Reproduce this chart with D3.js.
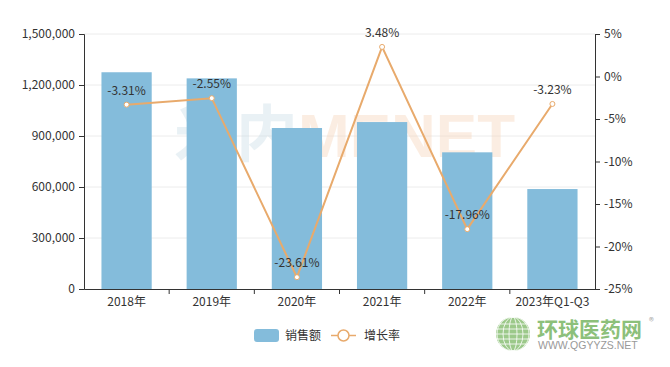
<!DOCTYPE html>
<html>
<head>
<meta charset="utf-8">
<script src="https://cdn.jsdelivr.net/npm/d3@7"></script>
<style>
  body { margin: 0; background: #fff; }
  svg { display: block; font-family: "Microsoft YaHei", "Noto Sans CJK SC", sans-serif; }
</style>
</head>
<body>
<svg id="chart" width="670" height="367"></svg>
<script>
// data
const categories = ['2018年', '2019年', '2020年', '2021年', '2022年', '2023年Q1-Q3']
const sales = [1275000, 1239000, 947000, 982000, 804000, 588000]
const growth = [-3.31, -2.55, -23.61, 3.48, -17.96, -3.23]
const leftTicks = [0, 300000, 600000, 900000, 1200000, 1500000]
const rightTicks = [-25, -20, -15, -10, -5, 0, 5]

const width = 670, height = 367
const margin = { top: 34, right: 75, bottom: 78, left: 84 }
const innerWidth = width - margin.left - margin.right
const innerHeight = height - margin.top - margin.bottom

const barColor = '#84bcdb'
const lineColor = '#e8aa6c'
const textColor = '#333'

const svg = d3.select('#chart')
svg.append('rect').attr('width', width).attr('height', height).attr('fill', '#fff')

const g = svg.append('g').attr('transform', `translate(${margin.left},${margin.top})`)

// scales
const x = d3.scaleBand().domain(categories).range([0, innerWidth]).paddingInner(0.41).paddingOuter(0.205)
const xBand = d3.scaleBand().domain(categories).range([0, innerWidth])
const yL = d3.scaleLinear().domain([0, 1500000]).range([innerHeight, 0])
const yR = d3.scaleLinear().domain([-25, 5]).range([innerHeight, 0])

// grid
g.append('g').selectAll('line').data(leftTicks.slice(1)).join('line')
  .attr('x1', 0).attr('x2', innerWidth)
  .attr('y1', d => yL(d)).attr('y2', d => yL(d))
  .attr('stroke', '#ececec')

// watermark
const wm = g.append('text')
  .attr('x', innerWidth / 2 + 5).attr('y', 157 - margin.top)
  .attr('text-anchor', 'middle')
  .attr('font-family', 'Arial, "Liberation Sans", sans-serif')
  .attr('font-weight', 'bold').attr('font-size', 62)
wm.append('tspan').attr('fill', '#c9dbe6').attr('fill-opacity', 0.4).attr('font-family', '"Noto Sans CJK SC", sans-serif').text('米内')
wm.append('tspan').attr('fill', '#f6d8bf').attr('fill-opacity', 0.45).text('MENET')

// bars
g.append('g').selectAll('rect').data(sales).join('rect')
  .attr('x', (d, i) => x(categories[i]))
  .attr('width', x.bandwidth())
  .attr('y', d => yL(d))
  .attr('height', d => innerHeight - yL(d))
  .attr('fill', barColor)

// axes
const axisStyle = sel => {
  sel.select('.domain').attr('stroke', '#333')
  sel.selectAll('.tick line').attr('stroke', '#333')
  sel.selectAll('.tick text').attr('fill', textColor).attr('font-size', 12)
    .attr('font-family', '"Microsoft YaHei", "Noto Sans CJK SC", sans-serif')
}

g.append('g')
  .call(d3.axisLeft(yL).tickValues(leftTicks).tickFormat(d3.format(',')).tickSizeOuter(0).tickSize(5).tickPadding(4))
  .call(axisStyle)

g.append('g')
  .attr('transform', `translate(${innerWidth},0)`)
  .call(d3.axisRight(yR).tickValues(rightTicks).tickFormat(d => d + '%').tickSizeOuter(0).tickSize(5).tickPadding(4))
  .call(axisStyle)

const xAxis = g.append('g')
  .attr('transform', `translate(0,${innerHeight})`)
  .call(d3.axisBottom(xBand).tickSize(0).tickSizeOuter(0).tickPadding(8))
  .call(axisStyle)
// boundary ticks between categories
xAxis.append('g').selectAll('line').data(categories.slice(1)).join('line')
  .attr('x1', d => xBand(d)).attr('x2', d => xBand(d))
  .attr('y1', 0).attr('y2', 5).attr('stroke', '#333')

// line
const cx = i => xBand(categories[i]) + xBand.bandwidth() / 2
const line = d3.line().x((d, i) => cx(i)).y(d => yR(d))
g.append('path').datum(growth)
  .attr('fill', 'none').attr('stroke', lineColor).attr('stroke-width', 2)
  .attr('d', line)

g.append('g').selectAll('circle').data(growth).join('circle')
  .attr('cx', (d, i) => cx(i)).attr('cy', d => yR(d)).attr('r', 2.5)
  .attr('fill', '#fff').attr('stroke', lineColor).attr('stroke-width', 1)

g.append('g').selectAll('text').data(growth).join('text')
  .attr('x', (d, i) => cx(i)).attr('y', d => yR(d) - 10)
  .attr('text-anchor', 'middle').attr('font-size', 12).attr('fill', textColor)
  .text(d => d.toFixed(2) + '%')

// legend
const lg = svg.append('g').attr('transform', 'translate(254,329)')
lg.append('rect').attr('x', 0).attr('y', 0).attr('width', 25).attr('height', 13).attr('rx', 3).attr('fill', barColor)
lg.append('text').attr('x', 31).attr('y', 11).attr('font-size', 12).attr('fill', textColor).text('销售额')
lg.append('line').attr('x1', 77).attr('x2', 102).attr('y1', 6.5).attr('y2', 6.5).attr('stroke', lineColor).attr('stroke-width', 1.5)
lg.append('circle').attr('cx', 89.5).attr('cy', 6.5).attr('r', 5.5).attr('fill', '#fff').attr('stroke', lineColor).attr('stroke-width', 1.5)
lg.append('text').attr('x', 110).attr('y', 11).attr('font-size', 12).attr('fill', textColor).text('增长率')

// logo
const logo = svg.append('g').attr('transform', 'translate(495,317)')
logo.append('circle').attr('cx', 18).attr('cy', 17).attr('r', 17).attr('fill', '#9cc98a')
logo.append('g').selectAll('line').data([-10, -5, 0, 5, 10]).join('line')
  .attr('x1', 1).attr('x2', 35).attr('y1', d => 17 + d).attr('y2', d => 17 + d)
  .attr('stroke', '#fff').attr('stroke-width', 0.8)
logo.append('g').selectAll('ellipse').data([4, 10, 16]).join('ellipse')
  .attr('cx', 18).attr('cy', 17).attr('rx', d => d).attr('ry', 17)
  .attr('fill', 'none').attr('stroke', '#fff').attr('stroke-width', 0.8)
logo.append('text').attr('x', 42).attr('y', 20).attr('font-size', 21).attr('font-weight', 'bold')
  .attr('fill', '#8cc07a').attr('font-family', '"Noto Sans CJK SC", sans-serif').text('环球医药网')
logo.append('text').attr('x', 43).attr('y', 32).attr('font-size', 10.5).attr('fill', '#999')
  .attr('font-family', 'Arial, "Liberation Sans", sans-serif').text('WWW.QGYYZS.NET')
logo.append('text').attr('x', 154).attr('y', 8).attr('font-size', 10).attr('fill', '#aaa').text('®')
</script>
</body>
</html>
